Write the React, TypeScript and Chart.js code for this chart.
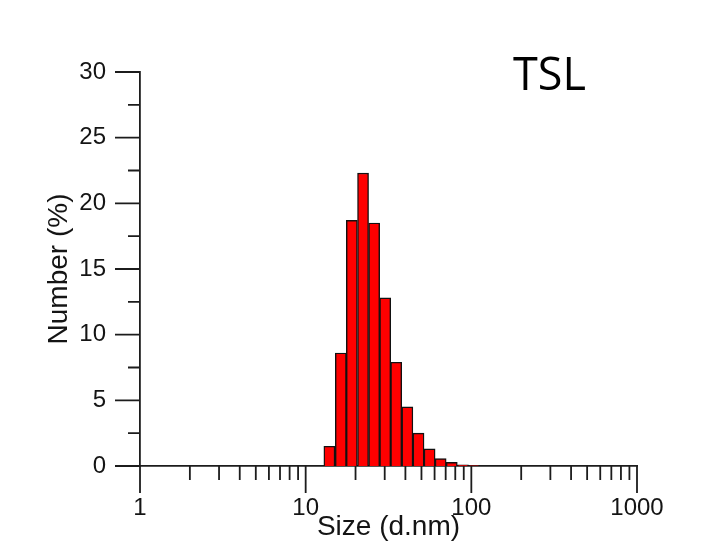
import React, { useEffect, useRef } from 'react';
import { Chart, registerables } from 'chart.js';

Chart.register(...registerables);

// ---- data ----
const sizes = [13.9, 16.3, 19.0, 22.2, 25.9, 30.2, 35.2, 41.1, 48.0, 56.0, 65.3, 76.2, 89.0, 103.8];
const numbers = [1.5, 8.6, 18.7, 22.3, 18.5, 12.8, 7.9, 4.5, 2.5, 1.3, 0.56, 0.28, 0.08, 0.04];
const yMin = 0;
const yMax = 30;
const yStep = 5;
const yMinorStep = 2.5;
const xMin = 1;
const xMax = 1000;
const xLabelTicks = [1, 10, 100, 1000];
const xDecades = [1, 10, 100];
const xMultipliers = [1, 2, 3, 4, 5, 6, 7, 8, 9];
const xTitle = 'Size (d.nm)';
const yTitle = 'Number (%)';
const panelLabel = 'TSL';

const AXIS_COLOR = '#1c1c1c';
const TEXT_COLOR = '#141414';
const FONT = '"Liberation Sans", Arial, sans-serif';

const tickMarks = {
  id: 'tickMarks',
  afterDraw(chart: any) {
    const { ctx, scales } = chart;
    const x = scales.x;
    const y = scales.y;
    ctx.save();
    ctx.strokeStyle = AXIS_COLOR;
    ctx.lineWidth = 1.8;
    ctx.beginPath();
    const left = chart.chartArea.left;
    const bottom = chart.chartArea.bottom;
    for (let v = yMin; v <= yMax + 1e-9; v += yMinorStep) {
      const py = y.getPixelForValue(v);
      const major = Math.abs(v / yStep - Math.round(v / yStep)) < 1e-6;
      ctx.moveTo(left - (major ? 25 : 12), py);
      ctx.lineTo(left, py);
    }
    const xs: number[] = [];
    xDecades.forEach((d) => xMultipliers.forEach((m) => xs.push(d * m)));
    xs.push(xMax);
    xs.forEach((v) => {
      const px = x.getPixelForValue(v);
      const lg = Math.log10(v);
      const major = Math.abs(lg - Math.round(lg)) < 1e-9;
      ctx.moveTo(px, bottom);
      ctx.lineTo(px, bottom + (major ? 27 : 14));
    });
    ctx.stroke();

    ctx.fillStyle = '#000';
    ctx.font = '45px "Open Sans"';
    ctx.textAlign = 'left';
    ctx.textBaseline = 'alphabetic';
    ctx.fillText(panelLabel, 513, 90);
    ctx.restore();
  },
};

export default function App() {
  const ref = useRef<HTMLCanvasElement>(null);

  useEffect(() => {
    if (!ref.current) return;
    const chart = new Chart(ref.current, {
      type: 'bar',
      data: {
        datasets: [
          {
            data: sizes.map((s, i) => ({ x: s, y: numbers[i] })),
            backgroundColor: '#ff0000',
            borderColor: '#111111',
            borderWidth: 1.4,
            borderSkipped: 'start',
            barPercentage: 1,
            categoryPercentage: 1,
          },
        ],
      },
      options: {
        animation: false,
        responsive: false,
        devicePixelRatio: 1,
        layout: { padding: { top: 72, right: 91, left: 0, bottom: 0 } },
        plugins: {
          legend: { display: false },
          tooltip: { enabled: false },
          title: { display: false },
        },
        scales: {
          x: {
            type: 'logarithmic',
            min: xMin,
            max: xMax,
            offset: false,
            grid: { display: false, drawTicks: false, tickLength: 0 },
            border: { display: true, color: AXIS_COLOR, width: 1.8 },
            afterBuildTicks: (scale: any) => {
              scale.ticks = xLabelTicks.map((v) => ({ value: v, major: true }));
            },
            ticks: {
              autoSkip: false,
              maxRotation: 0,
              minRotation: 0,
              padding: 28,
              color: TEXT_COLOR,
              font: { family: FONT, size: 24 },
              callback: (v: any) => String(Number(v)),
            },
            title: {
              display: true,
              text: xTitle,
              color: TEXT_COLOR,
              font: { family: FONT, size: 28 },
              padding: { top: 0, bottom: 8 },
            },
            afterFit: (scale: any) => {
              scale.height = 86;
            },
          },
          y: {
            type: 'linear',
            min: yMin,
            max: yMax,
            grid: { display: false, drawTicks: false, tickLength: 0 },
            border: { display: true, color: AXIS_COLOR, width: 1.8 },
            ticks: {
              stepSize: yStep,
              padding: 34,
              color: TEXT_COLOR,
              font: { family: FONT, size: 24 },
            },
            title: {
              display: true,
              text: yTitle,
              color: TEXT_COLOR,
              font: { family: FONT, size: 28 },
              padding: { top: 42, bottom: 0 },
            },
            afterFit: (scale: any) => {
              scale.width = 140;
            },
          },
        },
      },
      plugins: [tickMarks],
    });
    return () => chart.destroy();
  }, []);

  return (
    <canvas
      ref={ref}
      width={728}
      height={552}
      style={{ position: 'fixed', left: 0, top: 0, width: 728, height: 552, background: '#fff' }}
    />
  );
}
